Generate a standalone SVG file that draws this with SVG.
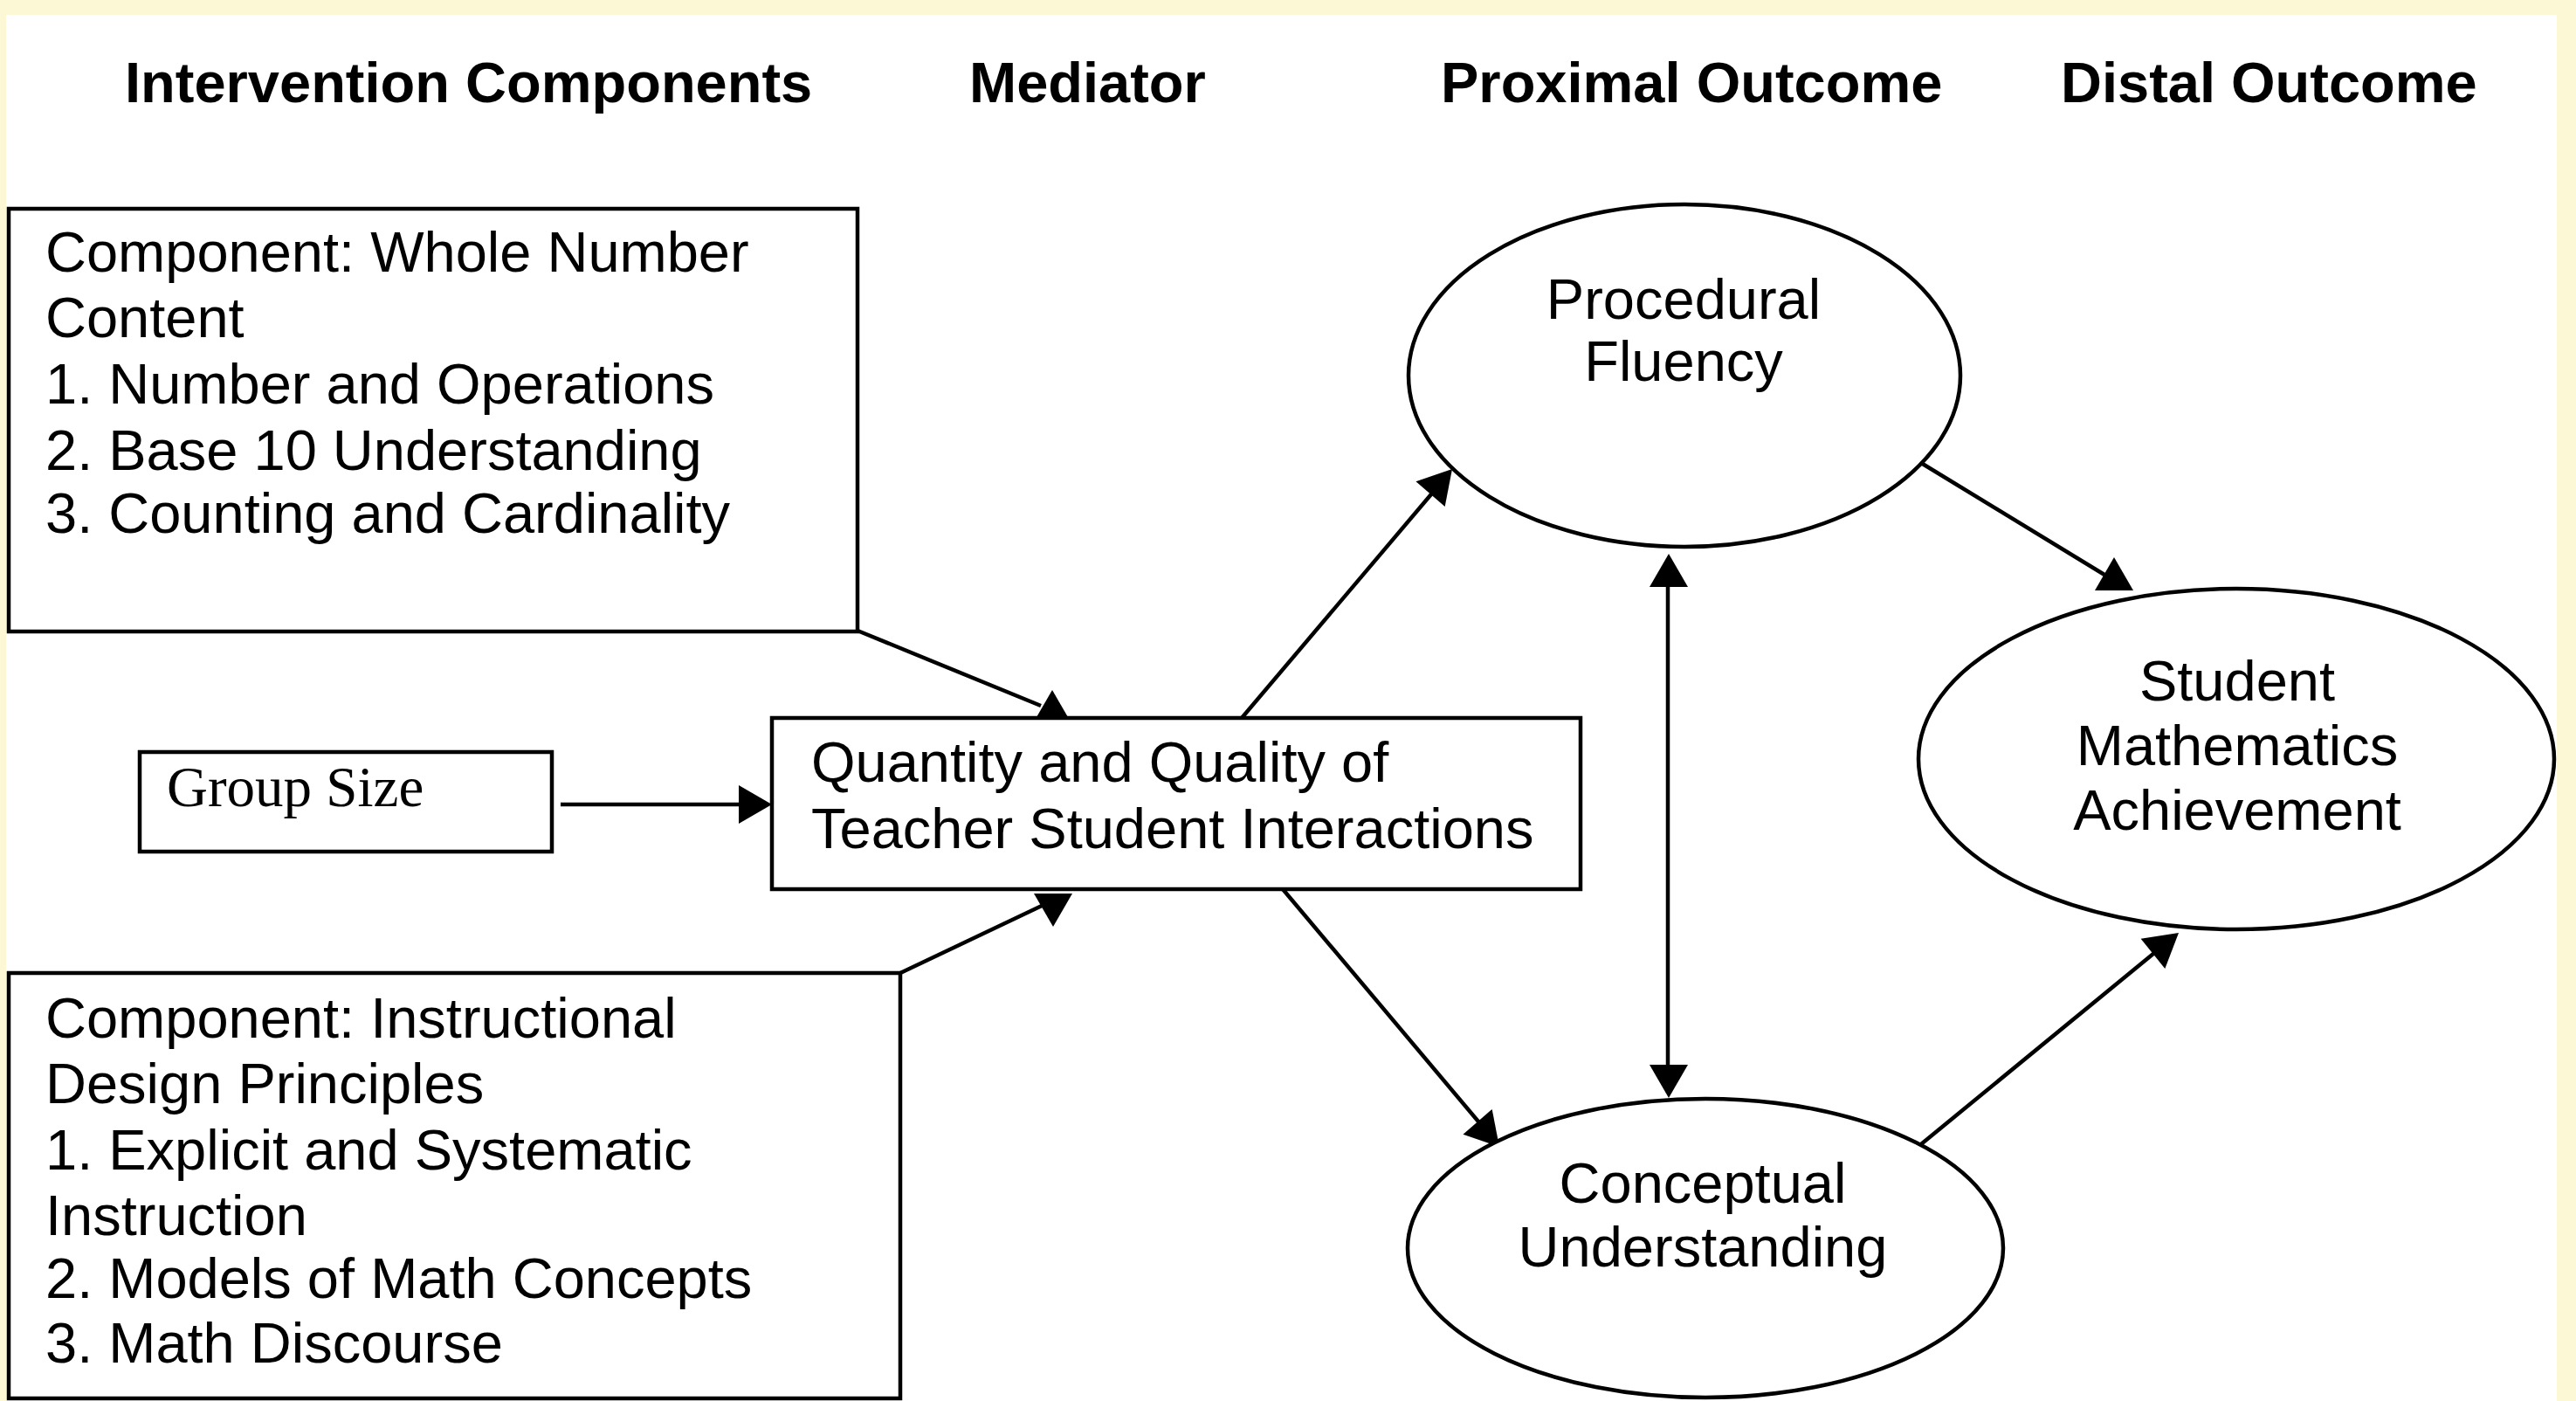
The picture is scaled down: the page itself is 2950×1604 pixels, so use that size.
<svg xmlns="http://www.w3.org/2000/svg" xmlns:xlink="http://www.w3.org/1999/xlink" width="2950" height="1604" viewBox="0 0 2950 1604">
  <style>
    .shape { fill: #ffffff; stroke: #000000; stroke-width: 4.5; }
    .txt { font-family: "Liberation Sans", Arial, sans-serif; font-size: 65px; fill: #000000; }
    .head { font-family: "Liberation Sans", Arial, sans-serif; font-size: 65px; font-weight: bold; fill: #000000; }
    .serif { font-family: "Liberation Serif", "Times New Roman", serif; font-size: 65px; fill: #000000; }
    .mid { text-anchor: middle; }
    .link { fill: none; stroke: #000000; stroke-width: 4.5; stroke-linecap: butt; }
    .tip { fill: #000000; stroke: none; }
  </style>
  <defs>
    <!-- arrowhead pointing along +x, apex at the origin -->
    <path id="ah" d="M0,0 L-38,-22 L-38,22 Z"/>
  </defs>

  <!-- page background and white canvas -->
  <rect x="0" y="0" width="2950" height="1604" fill="#fcf7d5"/>
  <rect x="7" y="17" width="2921" height="1587" fill="#ffffff"/>

  <!-- column headings -->
  <g id="headings">
    <text class="head" x="143" y="117">Intervention Components</text>
    <text class="head" x="1110" y="117">Mediator</text>
    <text class="head" x="1650" y="117">Proximal Outcome</text>
    <text class="head" x="2360" y="117">Distal Outcome</text>
  </g>

  <!-- connectors -->
  <g id="connectors">
    <line class="link" x1="982" y1="722" x2="1192" y2="808"/>
    <use class="tip" xlink:href="#ah" href="#ah" transform="translate(1205,790) rotate(-90)"/>

    <line class="link" x1="642" y1="921" x2="860" y2="921"/>
    <use class="tip" xlink:href="#ah" href="#ah" transform="translate(884,921)"/>

    <line class="link" x1="1031" y1="1114" x2="1193" y2="1037"/>
    <use class="tip" xlink:href="#ah" href="#ah" transform="translate(1206,1061) rotate(90)"/>

    <line class="link" x1="1422" y1="822" x2="1644" y2="560"/>
    <use class="tip" xlink:href="#ah" href="#ah" transform="translate(1663,537) rotate(-49)"/>

    <line class="link" x1="1469" y1="1018" x2="1698" y2="1290"/>
    <use class="tip" xlink:href="#ah" href="#ah" transform="translate(1717,1313) rotate(49)"/>

    <line class="link" x1="1910" y1="660" x2="1910" y2="1230"/>
    <use class="tip" xlink:href="#ah" href="#ah" transform="translate(1911,634) rotate(-90)"/>
    <use class="tip" xlink:href="#ah" href="#ah" transform="translate(1911,1257) rotate(90)"/>

    <line class="link" x1="2200" y1="530" x2="2410" y2="658"/>
    <use class="tip" xlink:href="#ah" href="#ah" transform="translate(2421,638) rotate(-90)"/>

    <line class="link" x1="2200" y1="1310" x2="2472" y2="1087"/>
    <use class="tip" xlink:href="#ah" href="#ah" transform="translate(2495,1068) rotate(-39)"/>
  </g>

  <!-- intervention component: whole number content -->
  <g id="whole-number">
    <rect class="shape" x="10" y="239" width="972" height="484"/>
    <text class="txt" x="52" y="311">Component: Whole Number</text>
    <text class="txt" x="52" y="386">Content</text>
    <text class="txt" x="52" y="462">1. Number and Operations</text>
    <text class="txt" x="52" y="538">2. Base 10 Understanding</text>
    <text class="txt" x="52" y="610">3. Counting and Cardinality</text>
  </g>

  <!-- group size -->
  <g id="group-size">
    <rect class="shape" x="160" y="861" width="472" height="114"/>
    <text class="serif" x="191" y="923">Group Size</text>
  </g>

  <!-- intervention component: instructional design principles -->
  <g id="design-principles">
    <rect class="shape" x="10" y="1114" width="1021" height="487"/>
    <text class="txt" x="52" y="1188">Component: Instructional</text>
    <text class="txt" x="52" y="1263">Design Principles</text>
    <text class="txt" x="52" y="1339">1. Explicit and Systematic</text>
    <text class="txt" x="52" y="1414">Instruction</text>
    <text class="txt" x="52" y="1486">2. Models of Math Concepts</text>
    <text class="txt" x="52" y="1560">3. Math Discourse</text>
  </g>

  <!-- mediator -->
  <g id="mediator">
    <rect class="shape" x="884" y="822" width="926" height="196"/>
    <text class="txt" x="929" y="895">Quantity and Quality of</text>
    <text class="txt" x="929" y="971">Teacher Student Interactions</text>
  </g>

  <!-- proximal outcomes -->
  <g id="procedural-fluency">
    <ellipse class="shape" cx="1929" cy="430" rx="316" ry="196"/>
    <text class="txt mid" x="1928" y="365">Procedural</text>
    <text class="txt mid" x="1928" y="436">Fluency</text>
  </g>

  <g id="conceptual-understanding">
    <ellipse class="shape" cx="1953" cy="1429" rx="341" ry="171"/>
    <text class="txt mid" x="1950" y="1377">Conceptual</text>
    <text class="txt mid" x="1950" y="1450">Understanding</text>
  </g>

  <!-- distal outcome -->
  <g id="achievement">
    <ellipse class="shape" cx="2561" cy="869" rx="364" ry="195"/>
    <text class="txt mid" x="2562" y="802">Student</text>
    <text class="txt mid" x="2562" y="876">Mathematics</text>
    <text class="txt mid" x="2562" y="950">Achievement</text>
  </g>
</svg>
